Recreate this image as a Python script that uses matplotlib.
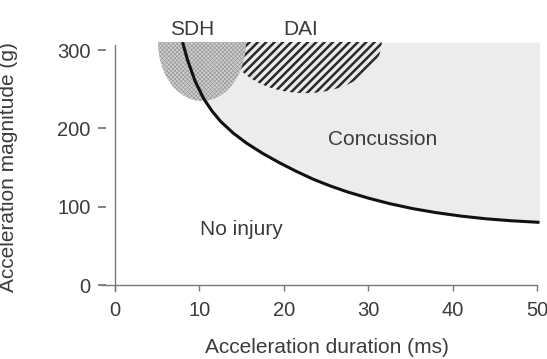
import matplotlib.pyplot as plt
from matplotlib.patches import Ellipse

# Tolerance curve: acceleration duration (ms) vs peak acceleration (g)
duration = [8.0, 8.6, 9.5, 10.5, 11.5, 12.5, 14.0, 15.6, 17.5, 19.5, 21.5,
            23.5, 25.5, 27.5, 30.0, 32.5, 35.3, 38.0, 41.0, 44.0, 47.0, 50.3]
magnitude = [310, 287, 260, 238, 222, 209, 194, 181, 168, 156, 145,
             135, 126.5, 119, 111, 104, 97.5, 92.5, 88, 84.5, 82, 80]

# Injury zones hanging from the top of the plot: duration span (ms), lowest g
sdh_ms = [5.1, 15.5]
sdh_low = 235
dai_ms = [13.4, 31.6]
dai_low = 245

x_ticks = [0, 10, 20, 30, 40, 50]
y_ticks = [0, 100, 200, 300]
top = 310

plt.rcParams['font.family'] = ['Liberation Sans', 'DejaVu Sans']
plt.rcParams['hatch.linewidth'] = 1.8
text_col = '#3c3c3c'
axis_col = '#777777'

fig = plt.figure(figsize=(5.47, 3.59), dpi=100)
ax = fig.add_axes([0.1856, 0.1886, 0.8007, 0.6939])
ax.set_xlim(-1.6, 50.3)
ax.set_ylim(-8, top)

# concussion zone above the curve
ax.fill_between(duration, magnitude, top, color='#ececec', lw=0, zorder=1)

# DAI (hatched) and SDH (stippled) half-ellipses, clipped at the top edge
dai = Ellipse(((dai_ms[0] + dai_ms[1]) / 2, top), dai_ms[1] - dai_ms[0],
              2 * (top - dai_low), facecolor='none', edgecolor='#2a2a2a',
              lw=0, hatch='////', zorder=2)
ax.add_patch(dai)
sdh = Ellipse(((sdh_ms[0] + sdh_ms[1]) / 2, top), sdh_ms[1] - sdh_ms[0],
              2 * (top - sdh_low), facecolor='#d0d0d0', edgecolor='#999999',
              lw=0, hatch='xxxxxxxx', zorder=3)
sdh.set_hatch_linewidth(0.5)
ax.add_patch(sdh)

ax.plot(duration, magnitude, color='#111111', lw=2.2, zorder=4,
        solid_capstyle='butt')

# axes: crossing spines through the origin
for side in ['top', 'right']:
    ax.spines[side].set_visible(False)
ax.spines['left'].set_position(('data', 0))
ax.spines['bottom'].set_position(('data', 0))
ax.spines['left'].set_bounds(-8, 306)
ax.spines['bottom'].set_bounds(-1.6, 50)
for side in ['left', 'bottom']:
    ax.spines[side].set_color(axis_col)
    ax.spines[side].set_linewidth(1.0)

ax.set_xticks(x_ticks)
ax.set_yticks(y_ticks)
ax.tick_params(axis='x', direction='out', length=4.5, width=1, color=axis_col,
               labelsize=14.5, labelcolor=text_col, pad=7)
ax.tick_params(axis='y', length=0, labelsize=14.5, labelcolor=text_col,
               pad=17.5)
# detached dashes next to the y tick labels
ax.plot([-1.58] * len(y_ticks), y_ticks, ls='none', marker='_', ms=6,
        mew=1.3, color=axis_col, clip_on=False, zorder=5)

ax.set_xlabel('Acceleration duration (ms)', fontsize=15, color=text_col)
ax.xaxis.set_label_coords(0.514, -0.187)
ax.set_ylabel('Acceleration magnitude (g)', fontsize=15, color=text_col)
ax.yaxis.set_label_coords(-0.19, 0.5)

ax.text(9.1, 326, 'SDH', ha='center', va='center', fontsize=15, color=text_col)
ax.text(22.0, 326, 'DAI', ha='center', va='center', fontsize=15, color=text_col)
ax.text(31.75, 186, 'Concussion', ha='center', va='center', fontsize=15,
        color=text_col)
ax.text(15.0, 71.5, 'No injury', ha='center', va='center', fontsize=15,
        color=text_col)

fig.savefig('out.png', dpi=100)
